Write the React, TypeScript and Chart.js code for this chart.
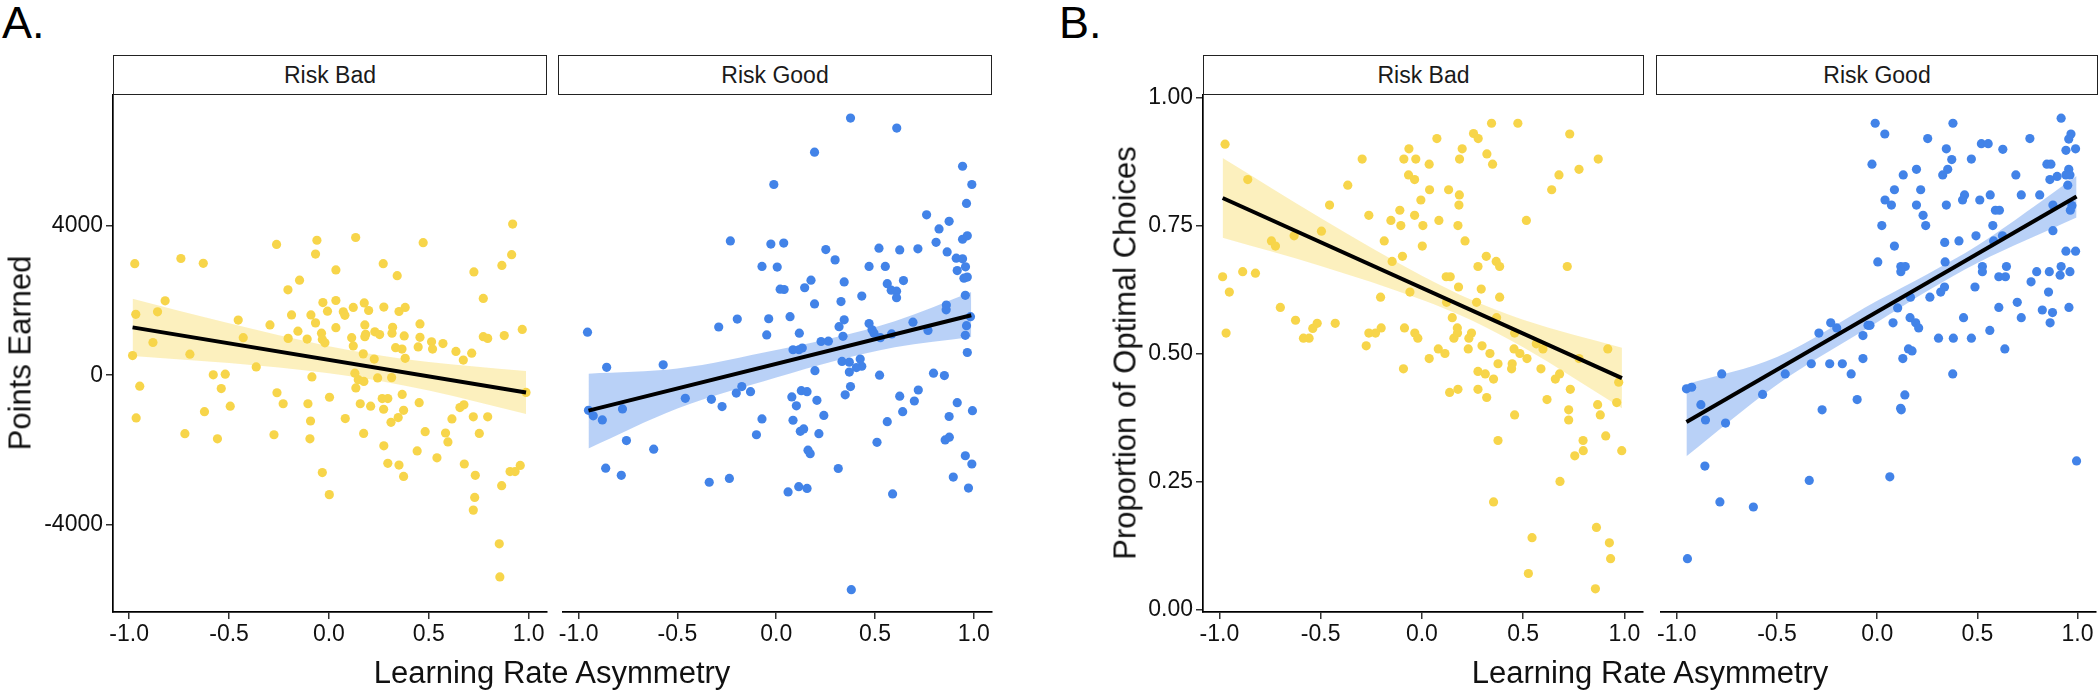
import React, { useEffect, useRef } from "react";
import { Chart, registerables } from "chart.js";

Chart.register(...registerables);

const FONT = '"Liberation Sans", Arial, Helvetica, sans-serif';

// ---------- tick labels / axis limits ----------
const X_TICKS = [-1, -0.5, 0, 0.5, 1];
const X_LIMITS = [-1.081, 1.092];
const POINTS_TICKS = [-4000, 0, 4000];
const POINTS_LIMITS = [-6341, 7503];
const PROP_TICKS = [0, 0.25, 0.5, 0.75, 1];
const PROP_LIMITS = [-0.0052, 1.0052];

const FACETS = ["Risk Bad", "Risk Good"];
const X_TITLE = "Learning Rate Asymmetry";
const Y_TITLE_A = "Points Earned";
const Y_TITLE_B = "Proportion of Optimal Choices";

// ---------- Panel A: Points Earned ----------
const pointsRiskBad: [number, number][] = [
  [-0.972, 2986], [-0.741, 3125], [-0.629, 2995], [-0.262, 3502], [-0.06, 3613], [-0.067, 3244], [0.134, 3687], [0.472, 3548],
  [0.92, 4046], [0.915, 3226], [0.866, 2940], [0.726, 2765], [0.272, 2986], [0.342, 2664], [0.035, 2820], [-0.147, 2544],
  [-0.205, 2286], [-0.82, 1991], [-0.967, 1631], [-0.858, 1696], [-0.881, 876], [-0.983, 525], [-0.696, 562], [-0.947, -295],
  [-0.965, -1143], [-0.623, -977], [-0.721, -1567], [-0.558, -1705], [-0.579, 9], [-0.519, 28], [-0.539, -359], [-0.494, -830],
  [-0.454, 1475], [-0.429, 1005], [-0.364, 221], [-0.295, 1346], [-0.204, 986], [-0.187, 1613], [-0.155, 1180], [-0.109, 968],
  [-0.09, 1613], [-0.067, 1401], [-0.03, 1945], [-0.007, 1714], [-0.037, 1124], [-0.033, 959], [-0.02, 866], [0.035, 2000],
  [0.035, 1272], [0.072, 1696], [0.08, 1604], [0.122, 1816], [0.114, 1005], [0.122, 783], [0.177, 1936], [0.199, 1733],
  [0.18, 1346], [0.184, 1097], [0.18, 1032], [0.172, 571], [0.227, 433], [0.23, 1161], [0.254, 1088], [0.275, 1825],
  [0.319, 1281], [0.316, 1124], [0.351, 1705], [0.382, 1816], [0.377, 1051], [0.334, 737], [0.366, 700], [0.382, 452],
  [0.456, 1373], [0.456, 1014], [0.447, 756], [0.514, 894], [0.519, 700], [0.571, 848], [0.636, 636], [0.673, 406],
  [0.715, 590], [0.773, 2055], [0.773, 1032], [0.795, 986], [0.878, 1060], [0.968, 1226], [0.987, -461], [0.13, 55],
  [0.147, -120], [0.175, -166], [0.135, -341], [0.244, -74], [0.314, -65], [-0.085, -46], [-0.26, -470], [-0.229, -765],
  [0.003, -590], [-0.105, -765], [-0.092, -1226], [-0.275, -1595], [-0.095, -1705], [0.082, -1161], [0.157, -765], [0.209, -830],
  [0.267, -627], [0.295, -627], [0.274, -912], [0.367, -516], [0.374, -940], [0.347, -1134], [0.311, -1263], [0.174, -1558],
  [0.275, -1890], [0.295, -2360], [0.351, -2406], [0.374, -2710], [0.452, -737], [0.482, -1512], [0.442, -2028], [0.541, -2212],
  [0.584, -1548], [0.596, -1788], [0.616, -1171], [0.656, -866], [0.676, -793], [0.723, -1115], [0.795, -1115], [0.753, -1558],
  [0.678, -2378], [0.733, -2682], [0.73, -3272], [0.723, -3613], [0.865, -2959], [0.907, -2581], [0.932, -2581], [0.958, -2415],
  [0.853, -4516], [0.856, -5401], [-0.033, -2608], [0.002, -3198],
];

const pointsRiskGood: [number, number][] = [
  [0.376, 6885], [0.61, 6618], [0.194, 5973], [-0.012, 5106], [0.943, 5595], [0.99, 5106], [0.963, 4599], [0.761, 4295],
  [0.875, 4120], [0.824, 3917], [0.809, 3558], [0.943, 3641], [0.967, 3733], [0.865, 3300], [0.911, 3134], [0.943, 3115],
  [0.958, 2903], [0.916, 2801], [0.95, 2599], [0.967, 2627], [0.957, 2138], [-0.232, 3595], [-0.027, 3512], [0.038, 3539],
  [-0.072, 2913], [0.005, 2894], [0.02, 2304], [0.04, 2295], [0.251, 3364], [0.298, 3088], [0.176, 2544], [0.144, 2341],
  [0.194, 1908], [0.344, 2498], [0.328, 1972], [0.433, 2120], [0.47, 2913], [0.52, 3401], [0.552, 2913], [0.625, 3355],
  [0.717, 3383], [0.562, 2452], [0.582, 2277], [0.609, 2249], [0.609, 2074], [0.644, 2535], [0.861, 1880], [0.86, 1751],
  [-0.955, 1152], [-0.291, 1290], [-0.197, 1502], [-0.038, 1512], [-0.048, 1078], [0.07, 1567], [0.117, 1124], [0.085, 682],
  [0.115, 682], [0.132, 728], [0.227, 903], [0.264, 912], [0.344, 1484], [0.318, 1300], [0.338, 1041], [0.47, 1383],
  [0.485, 1217], [0.495, 1124], [0.527, 1005], [0.584, 1106], [0.692, 1419], [0.768, 1198], [0.963, 1327], [0.957, 1069],
  [0.967, 608], [0.983, 1567], [-0.858, 212], [-0.572, 277], [0.196, 120], [0.333, 369], [0.37, 350], [0.425, 433],
  [0.433, 240], [0.406, 203], [0.37, 83], [0.523, 0], [0.796, 55], [0.851, -9], [-0.95, -940], [-0.926, -1088],
  [-0.88, -1198], [-0.778, -903], [-0.758, -1751], [-0.62, -1982], [-0.863, -2489], [-0.784, -2682], [-0.46, -618], [-0.328, -645],
  [-0.274, -839], [-0.202, -479], [-0.174, -304], [-0.13, -442], [-0.072, -1171], [-0.1, -1595], [-0.339, -2866], [-0.237, -2765],
  [0.06, -3125], [0.114, -2986], [0.156, -3032], [0.079, -581], [0.102, -820], [0.127, -415], [0.156, -442], [0.206, -673],
  [0.085, -1207], [0.122, -1502], [0.139, -1438], [0.216, -1567], [0.241, -1078], [0.161, -2009], [0.172, -2101], [0.314, -2498],
  [0.376, -304], [0.349, -525], [0.51, -1797], [0.562, -1244], [0.589, -3180], [0.625, -562], [0.64, -977], [0.699, -691],
  [0.719, -396], [0.855, -1733], [0.876, -1659], [0.875, -1106], [0.916, -737], [0.993, -949], [0.957, -2157], [0.99, -2378],
  [0.896, -2728], [0.973, -3023], [0.38, -5742],
];

const fitPointsBad: [number, number][] = [[-0.983, 1281], [0.987, -461]];
const fitPointsGood: [number, number][] = [[-0.95, -949], [0.987, 1604]];
// [x, lower, upper]
const bandPointsBad: [number, number, number][] = [
  [-0.983, 516, 2046], [-0.5, 326, 1388], [0.0, 55, 775], [0.25, -147, 535], [0.5, -411, 355], [0.987, -1041, 111],
];
const bandPointsGood: [number, number, number][] = [
  [-0.95, -1963, 37], [-0.5, -894, 176], [0.0, -65, 673], [0.3, 387, 1013], [0.6, 747, 1447], [0.987, 1023, 2230],
];

// ---------- Panel B: Proportion of Optimal Choices ----------
const propRiskBad: [number, number][] = [
  [-0.972, 0.909], [-0.86, 0.84], [-0.984, 0.65], [-0.951, 0.62], [-0.967, 0.54], [-0.885, 0.66], [-0.822, 0.657], [-0.743, 0.72],
  [-0.723, 0.71], [-0.699, 0.59], [-0.631, 0.73], [-0.496, 0.739], [-0.456, 0.79], [-0.366, 0.829], [-0.295, 0.88], [-0.624, 0.565],
  [-0.585, 0.53], [-0.557, 0.53], [-0.539, 0.549], [-0.517, 0.559], [-0.428, 0.559], [-0.262, 0.77], [-0.186, 0.72], [-0.153, 0.76],
  [-0.109, 0.78], [-0.104, 0.75], [-0.147, 0.68], [-0.096, 0.69], [-0.089, 0.88], [-0.064, 0.9], [-0.03, 0.88], [-0.066, 0.849],
  [-0.036, 0.84], [-0.036, 0.77], [0.005, 0.75], [0.002, 0.71], [-0.005, 0.8], [0.036, 0.87], [0.038, 0.82], [0.074, 0.92],
  [0.084, 0.76], [0.132, 0.82], [0.185, 0.81], [0.183, 0.79], [0.186, 0.88], [0.199, 0.9], [0.178, 0.75], [0.213, 0.72],
  [0.255, 0.93], [0.278, 0.92], [0.344, 0.95], [0.474, 0.95], [0.321, 0.89], [0.349, 0.87], [0.516, 0.76], [0.73, 0.929],
  [0.677, 0.849], [0.641, 0.82], [0.776, 0.86], [0.871, 0.88], [0.718, 0.67], [0.318, 0.69], [0.367, 0.68], [0.384, 0.67],
  [0.277, 0.67], [0.12, 0.65], [0.14, 0.65], [0.181, 0.63], [0.293, 0.626], [0.384, 0.61], [0.27, 0.6], [0.122, 0.6],
  [-0.059, 0.62], [-0.204, 0.61], [0.15, 0.57], [0.175, 0.55], [0.176, 0.54], [0.158, 0.53], [0.245, 0.54], [0.232, 0.53],
  [0.229, 0.509], [0.297, 0.515], [0.369, 0.57], [0.458, 0.54], [0.455, 0.509], [0.484, 0.5], [0.519, 0.49], [0.336, 0.5],
  [0.376, 0.48], [0.446, 0.48], [0.443, 0.47], [0.277, 0.465], [0.313, 0.46], [0.354, 0.45], [0.081, 0.509], [0.114, 0.5],
  [0.036, 0.49], [-0.035, 0.54], [-0.02, 0.53], [-0.086, 0.55], [-0.091, 0.47], [-0.275, 0.515], [-0.262, 0.54], [-0.229, 0.54],
  [-0.201, 0.55], [0.137, 0.424], [0.178, 0.43], [0.277, 0.43], [0.32, 0.414], [0.565, 0.519], [0.598, 0.509], [0.588, 0.47],
  [0.659, 0.45], [0.68, 0.46], [0.733, 0.43], [0.618, 0.41], [0.725, 0.39], [0.725, 0.37], [0.776, 0.49], [0.918, 0.509],
  [0.972, 0.444], [0.962, 0.404], [0.868, 0.4], [0.881, 0.38], [0.908, 0.339], [0.987, 0.31], [0.796, 0.33], [0.797, 0.31],
  [0.755, 0.3], [0.458, 0.38], [0.376, 0.33], [0.682, 0.25], [0.354, 0.21], [0.544, 0.14], [0.526, 0.07], [0.862, 0.16],
  [0.926, 0.13], [0.932, 0.099], [0.857, 0.04],
];

const propRiskGood: [number, number][] = [
  [-0.01, 0.95], [0.038, 0.929], [-0.026, 0.87], [0.378, 0.95], [0.252, 0.92], [0.345, 0.9], [0.372, 0.879], [0.47, 0.88],
  [0.52, 0.91], [0.554, 0.91], [0.627, 0.899], [0.762, 0.92], [0.918, 0.96], [0.967, 0.929], [0.956, 0.919], [0.942, 0.897],
  [0.99, 0.9], [0.847, 0.87], [0.867, 0.87], [0.956, 0.86], [0.942, 0.849], [0.962, 0.849], [0.898, 0.846], [0.862, 0.84],
  [0.951, 0.829], [0.692, 0.849], [0.196, 0.86], [0.13, 0.849], [0.086, 0.82], [0.217, 0.82], [0.327, 0.849], [0.352, 0.86],
  [0.039, 0.8], [0.071, 0.79], [0.196, 0.79], [0.229, 0.77], [0.242, 0.75], [0.345, 0.79], [0.436, 0.81], [0.426, 0.8],
  [0.512, 0.8], [0.564, 0.81], [0.719, 0.81], [0.811, 0.81], [0.59, 0.78], [0.61, 0.78], [0.877, 0.79], [0.972, 0.789],
  [0.964, 0.78], [0.577, 0.75], [0.493, 0.73], [0.581, 0.72], [0.625, 0.73], [0.877, 0.74], [0.023, 0.75], [0.086, 0.71],
  [0.337, 0.717], [0.408, 0.72], [0.003, 0.679], [0.118, 0.67], [0.14, 0.67], [0.118, 0.66], [0.339, 0.679], [0.525, 0.67],
  [0.525, 0.66], [0.645, 0.67], [0.607, 0.65], [0.64, 0.65], [0.942, 0.7], [0.99, 0.7], [0.918, 0.67], [0.962, 0.66],
  [0.913, 0.653], [0.859, 0.66], [0.796, 0.66], [0.768, 0.64], [0.488, 0.63], [0.317, 0.62], [0.336, 0.63], [0.263, 0.61],
  [0.166, 0.61], [0.855, 0.62], [0.699, 0.6], [0.607, 0.59], [0.824, 0.585], [0.875, 0.58], [0.863, 0.56], [0.957, 0.59],
  [0.719, 0.57], [0.102, 0.589], [0.079, 0.56], [0.164, 0.57], [0.192, 0.56], [0.207, 0.55], [0.431, 0.57], [0.562, 0.545],
  [0.306, 0.53], [0.38, 0.53], [0.47, 0.53], [0.637, 0.509], [-0.046, 0.555], [-0.036, 0.555], [-0.071, 0.535], [-0.232, 0.56],
  [-0.202, 0.55], [-0.291, 0.54], [-0.329, 0.48], [-0.237, 0.48], [-0.174, 0.48], [-0.13, 0.46], [-0.071, 0.49], [0.156, 0.509],
  [0.174, 0.505], [0.128, 0.49], [0.377, 0.46], [-0.459, 0.46], [-0.572, 0.42], [-0.776, 0.46], [-0.952, 0.431], [-0.926, 0.434],
  [-0.88, 0.4], [-0.857, 0.37], [-0.757, 0.364], [-0.275, 0.39], [-0.1, 0.41], [0.138, 0.419], [0.117, 0.393], [0.12, 0.39],
  [-0.86, 0.28], [-0.785, 0.21], [-0.618, 0.2], [-0.339, 0.252], [0.063, 0.259], [-0.947, 0.099], [0.995, 0.29],
];

const fitPropBad: [number, number][] = [[-0.984, 0.804], [0.988, 0.452]];
const fitPropGood: [number, number][] = [[-0.952, 0.366], [0.995, 0.807]];
const bandPropBad: [number, number, number][] = [
  [-0.984, 0.726, 0.882], [-0.5, 0.671, 0.765], [0.0, 0.605, 0.652], [0.25, 0.564, 0.604], [0.5, 0.512, 0.566], [0.988, 0.393, 0.511],
];
const bandPropGood: [number, number, number][] = [
  [-0.952, 0.299, 0.44], [-0.5, 0.439, 0.493], [0.0, 0.561, 0.603], [0.25, 0.622, 0.655], [0.5, 0.677, 0.711], [0.995, 0.766, 0.847],
];

// ---------- colours ----------
const YELLOW = "#F7D54A";
const YELLOW_BAND = "rgba(247, 213, 74, 0.36)";
const BLUE = "#4283E8";
const BLUE_BAND = "rgba(66, 131, 232, 0.37)";

type PanelProps = {
  left: number;
  right: number;
  top: number;
  bottom: number;
  showY: boolean;
  yLimits: number[];
  yTicks: number[];
  yFmt: (v: number) => string;
  points: [number, number][];
  fit: [number, number][];
  band: [number, number, number][];
  color: string;
  bandColor: string;
};

const TICK_FONT = { family: FONT, size: 23 };

function Panel(p: PanelProps) {
  const ref = useRef<HTMLCanvasElement>(null);
  const YW = p.showY ? 110 : 0;
  const PT = 20;
  const PR = 10;
  const XH = 45;
  const cl = p.left - YW;
  const ct = p.top - PT;
  const cw = p.right + PR - cl;
  const ch = p.bottom + XH - ct;

  useEffect(() => {
    const chart = new Chart(ref.current as HTMLCanvasElement, {
      type: "scatter",
      data: {
        datasets: [
          {
            type: "line",
            data: p.fit.map(([x, y]) => ({ x, y })),
            borderColor: "#000",
            borderWidth: 4,
            pointRadius: 0,
            fill: false,
            tension: 0,
          } as any,
          {
            type: "line",
            data: p.band.map(([x, , hi]) => ({ x, y: hi })),
            borderColor: "rgba(0,0,0,0)",
            borderWidth: 1,
            pointRadius: 0,
            fill: "+1",
            backgroundColor: p.bandColor,
            cubicInterpolationMode: "monotone",
          } as any,
          {
            type: "line",
            data: p.band.map(([x, lo]) => ({ x, y: lo })),
            borderColor: "rgba(0,0,0,0)",
            borderWidth: 1,
            pointRadius: 0,
            fill: false,
            cubicInterpolationMode: "monotone",
          } as any,
          {
            type: "scatter",
            data: p.points.map(([x, y]) => ({ x, y })),
            pointRadius: 4.6,
            pointBackgroundColor: p.color,
            backgroundColor: p.color,
            borderWidth: 0,
            pointBorderWidth: 0,
          } as any,
        ],
      },
      options: {
        responsive: false,
        animation: false,
        events: [],
        layout: { padding: { top: PT, right: PR, left: 0, bottom: 0 } },
        plugins: { legend: { display: false }, tooltip: { enabled: false } },
        scales: {
          x: {
            type: "linear",
            min: X_LIMITS[0],
            max: X_LIMITS[1],
            afterBuildTicks: (s: any) => {
              s.ticks = X_TICKS.map((v) => ({ value: v }));
            },
            afterFit: (s: any) => {
              s.height = XH;
              s.paddingLeft = 0;
              s.paddingRight = 0;
            },
            grid: { display: true, drawOnChartArea: false, drawTicks: true, tickLength: 7, color: "#333", lineWidth: 1.5 },
            border: { display: true, color: "#000", width: 1.7 },
            ticks: {
              font: TICK_FONT,
              color: "#111",
              padding: 2,
              autoSkip: false,
              maxRotation: 0,
              callback: (v: any) => Number(v).toFixed(1),
            },
          },
          y: {
            type: "linear",
            display: p.showY,
            min: p.yLimits[0],
            max: p.yLimits[1],
            afterBuildTicks: (s: any) => {
              s.ticks = p.yTicks.map((v) => ({ value: v }));
            },
            afterFit: (s: any) => {
              s.width = YW;
              s.paddingTop = 0;
              s.paddingBottom = 0;
            },
            grid: { display: true, drawOnChartArea: false, drawTicks: true, tickLength: 7, color: "#333", lineWidth: 1.5 },
            border: { display: true, color: "#000", width: 1.7 },
            ticks: {
              font: TICK_FONT,
              color: "#111",
              padding: 3,
              autoSkip: false,
              callback: (v: any) => p.yFmt(Number(v)),
            },
          },
        },
      } as any,
    });
    return () => chart.destroy();
  }, []);

  return (
    <canvas
      ref={ref}
      width={cw}
      height={ch}
      style={{ position: "absolute", left: cl, top: ct, width: cw, height: ch }}
    />
  );
}

function Strip({ left, right, label }: { left: number; right: number; label: string }) {
  return (
    <div
      style={{
        position: "absolute",
        left,
        top: 55,
        width: right - left,
        height: 40,
        boxSizing: "border-box",
        border: "1.3px solid #222",
        background: "#fff",
        display: "flex",
        alignItems: "center",
        justifyContent: "center",
        fontSize: 23,
        color: "#1a1a1a",
        fontFamily: FONT,
        lineHeight: 1,
        zIndex: 2,
      }}
    >
      {label}
    </div>
  );
}

function XTitle({ cx, text }: { cx: number; text: string }) {
  return (
    <div
      style={{
        position: "absolute",
        left: cx,
        top: 657,
        transform: "translateX(-50%)",
        fontSize: 31,
        lineHeight: 1,
        whiteSpace: "nowrap",
        color: "#111",
        fontFamily: FONT,
      }}
    >
      {text}
    </div>
  );
}

function YTitle({ cx, cy, text }: { cx: number; cy: number; text: string }) {
  return (
    <div
      style={{
        position: "absolute",
        left: cx,
        top: cy,
        transform: "translate(-50%, -50%) rotate(-90deg)",
        fontSize: 31,
        lineHeight: 1,
        whiteSpace: "nowrap",
        color: "#111",
        fontFamily: FONT,
      }}
    >
      {text}
    </div>
  );
}

function Letter({ left, text }: { left: number; text: string }) {
  return (
    <div
      style={{
        position: "absolute",
        left,
        top: 0,
        fontSize: 45,
        lineHeight: 1,
        color: "#000",
        fontFamily: FONT,
      }}
    >
      {text}
    </div>
  );
}

const fmtPoints = (v: number) => String(Math.round(v));
const fmtProp = (v: number) => v.toFixed(2);

export default function App() {
  const TOP = 95;
  const BOTTOM = 612;
  return (
    <div
      style={{
        position: "fixed",
        left: 0,
        top: 0,
        width: 2100,
        height: 692,
        background: "#fff",
        overflow: "hidden",
        fontFamily: FONT,
      }}
    >
      <Panel left={113} right={547} top={TOP} bottom={BOTTOM} showY yLimits={POINTS_LIMITS} yTicks={POINTS_TICKS}
        yFmt={fmtPoints} points={pointsRiskBad} fit={fitPointsBad} band={bandPointsBad} color={YELLOW} bandColor={YELLOW_BAND} />
      <Panel left={558} right={992} top={TOP} bottom={BOTTOM} showY={false} yLimits={POINTS_LIMITS} yTicks={POINTS_TICKS}
        yFmt={fmtPoints} points={pointsRiskGood} fit={fitPointsGood} band={bandPointsGood} color={BLUE} bandColor={BLUE_BAND} />
      <Panel left={1203} right={1643} top={TOP} bottom={BOTTOM} showY yLimits={PROP_LIMITS} yTicks={PROP_TICKS}
        yFmt={fmtProp} points={propRiskBad} fit={fitPropBad} band={bandPropBad} color={YELLOW} bandColor={YELLOW_BAND} />
      <Panel left={1656} right={2096} top={TOP} bottom={BOTTOM} showY={false} yLimits={PROP_LIMITS} yTicks={PROP_TICKS}
        yFmt={fmtProp} points={propRiskGood} fit={fitPropGood} band={bandPropGood} color={BLUE} bandColor={BLUE_BAND} />

      <Strip left={113} right={547} label={FACETS[0]} />
      <Strip left={558} right={992} label={FACETS[1]} />
      <Strip left={1203} right={1644} label={FACETS[0]} />
      <Strip left={1656} right={2098} label={FACETS[1]} />

      <Letter left={2} text="A." />
      <Letter left={1059} text="B." />

      <YTitle cx={20} cy={353} text={Y_TITLE_A} />
      <YTitle cx={1125} cy={353} text={Y_TITLE_B} />
      <XTitle cx={552} text={X_TITLE} />
      <XTitle cx={1650} text={X_TITLE} />
    </div>
  );
}
